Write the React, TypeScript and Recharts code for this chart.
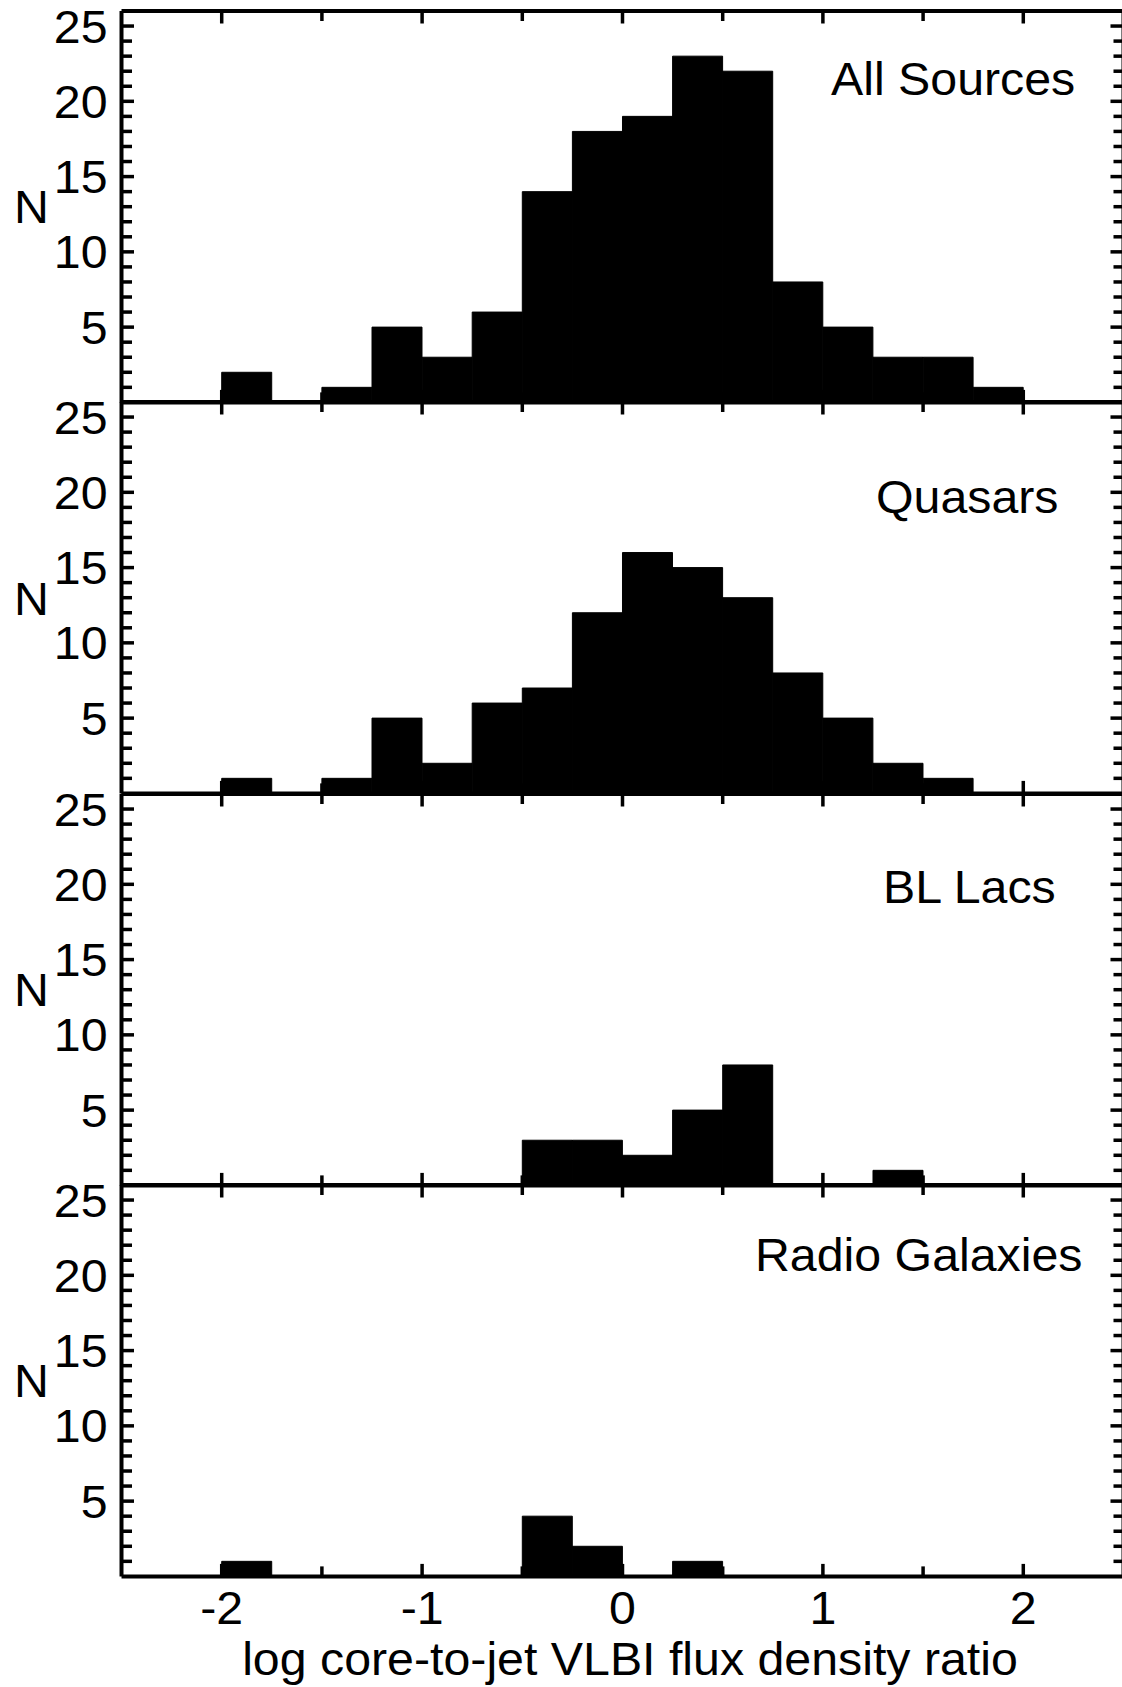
import {BarChart, Bar, XAxis, YAxis} from 'recharts';

// histogram bin centres, bins of width 0.25 in log(core/jet)
const BIN_CENTERS = [
    -2.375, -2.125, -1.875, -1.625, -1.375, -1.125, -0.875, -0.625, -0.375, -0.125,
    0.125, 0.375, 0.625, 0.875, 1.125, 1.375, 1.625, 1.875, 2.125, 2.375,
];

const ALL_SOURCES = [0, 0, 2, 0, 1, 5, 3, 6, 14, 18, 19, 23, 22, 8, 5, 3, 3, 1, 0, 0];
const QUASARS = [0, 0, 1, 0, 1, 5, 2, 6, 7, 12, 16, 15, 13, 8, 5, 2, 1, 0, 0, 0];
const BL_LACS = [0, 0, 0, 0, 0, 0, 0, 0, 3, 3, 2, 5, 8, 0, 0, 1, 0, 0, 0, 0];
const RADIO_GALAXIES = [0, 0, 1, 0, 0, 0, 0, 0, 4, 2, 0, 1, 0, 0, 0, 0, 0, 0, 0, 0];

const PANEL_NAMES = ["All Sources", "Quasars", "BL Lacs", "Radio Galaxies"];
const PANEL_COUNTS = [ALL_SOURCES, QUASARS, BL_LACS, RADIO_GALAXIES];

const X_DOMAIN = [-2.5, 2.5];
const Y_DOMAIN = [0, 26];
const X_TICKS = [-2, -1.5, -1, -0.5, 0, 0.5, 1, 1.5, 2];
const Y_TICKS = [1, 2, 3, 4, 5, 6, 7, 8, 9, 10, 11, 12, 13, 14, 15, 16, 17, 18, 19, 20, 21, 22, 23, 24, 25];

const X_TITLE = "log core-to-jet VLBI flux density ratio";
const Y_TITLE = "N";

// layout (px, page coordinates)
const FONT = '"Liberation Sans", Arial, Helvetica, sans-serif';
const FS = 46;
const STRETCH = 1.05;
const PLOT_LEFT = 121.5;
const PLOT_RIGHT = 1123.5;
const PLOT_TOP = 11;
const PANEL_H = 391.4;
const CHART_W = 1130;
const PAD = 20;
const BOTTOM_PAD = 115;
const LABEL_POS = [
    {x: 831, y: 95},
    {x: 876, y: 513},
    {x: 883, y: 903},
    {x: 755, y: 1271},
];

const LW = 3.5;

// horizontally widened text, the original font runs a bit wider than Arial
const SText = ({x, y, anchor = "start", children}: any) =>
    <text transform={`translate(${x},${y}) scale(${STRETCH},1)`} textAnchor={anchor}
          fontSize={FS} fontFamily={FONT} fill="#000">{children}</text>;

const LeftTick = ({x, y, payload}: any) => {
    const v = payload.value;
    const major = v % 5 === 0;
    return <g>
        <line x1={x} y1={y} x2={x + (major ? 12.5 : 10.5)} y2={y} stroke="#000" strokeWidth={LW}/>
        {major && <SText x={x - 14} y={y + 16.5} anchor="end">{v}</SText>}
    </g>;
}

const RightTick = ({x, y, payload}: any) => {
    const major = payload.value % 5 === 0;
    return <line x1={x} y1={y} x2={x - (major ? 13 : 10)} y2={y} stroke="#000" strokeWidth={LW}/>;
}

const makeBottomTick = (showLabel: boolean) => ({x, y, payload}: any) => {
    const v = payload.value;
    const major = Number.isInteger(v);
    return <g>
        <line x1={x} y1={y} x2={x} y2={y - (major ? 12.5 : 10)} stroke="#000" strokeWidth={LW}/>
        {showLabel && major && <SText x={x} y={y + 48} anchor="middle">{v}</SText>}
    </g>;
}

const TopTick = ({x, y, payload}: any) => {
    const major = Number.isInteger(payload.value);
    return <line x1={x} y1={y} x2={x} y2={y + (major ? 12.5 : 10)} stroke="#000" strokeWidth={LW}/>;
}

const BottomTick = makeBottomTick(false);
const BottomTickLabelled = makeBottomTick(true);

const Panel = ({counts, index}: { counts: number[], index: number }) => {
    const last = index === PANEL_COUNTS.length - 1;
    const data = BIN_CENTERS.map((x, i) => ({x, n: counts[i]}));
    const top = PLOT_TOP + index * PANEL_H - PAD;
    const bottomPad = last ? BOTTOM_PAD : PAD;
    const axisLine = {stroke: "#000", strokeWidth: 4};
    const common = {allowDataOverflow: true, tickSize: 0, tickMargin: 0, tickLine: false, axisLine, interval: 0 as const};

    // every visible axis is 1px thick so that it still renders; margins are trimmed by that pixel.
    // bars sit on a hidden band axis (one band per bin), the frame uses numeric axes
    return <div style={{position: "absolute", left: 0, top}}>
        <BarChart
            width={CHART_W}
            height={PANEL_H + PAD + bottomPad}
            data={data}
            barCategoryGap={0}
            barGap={0}
            margin={{top: PAD - 1, bottom: bottomPad - 1, left: PLOT_LEFT - 1, right: CHART_W - PLOT_RIGHT - 1}}
        >
            <XAxis xAxisId="bottom" dataKey="x" type="number" domain={X_DOMAIN} ticks={X_TICKS} height={1}
                   {...common} tick={last ? BottomTickLabelled : BottomTick}/>
            <XAxis xAxisId="top" dataKey="x" orientation="top" type="number" domain={X_DOMAIN} ticks={X_TICKS}
                   height={1} {...common} tick={TopTick}/>
            <XAxis xAxisId="bins" dataKey="x" type="category" height={0} hide/>
            <YAxis yAxisId="left" dataKey="n" type="number" domain={Y_DOMAIN} ticks={Y_TICKS} width={1}
                   {...common} tick={LeftTick}/>
            <YAxis yAxisId="right" dataKey="n" orientation="right" type="number" domain={Y_DOMAIN} ticks={Y_TICKS}
                   width={1} {...common} tick={RightTick}/>
            <Bar dataKey="n" xAxisId="bins" yAxisId="left" fill="#000" stroke="#000" strokeWidth={1}
                 isAnimationActive={false}/>
        </BarChart>
    </div>;
}

export default function App() {
    return <div style={{position: "absolute", left: 0, top: 0, width: 1122, height: 1687, overflow: "hidden", background: "#fff"}}>
        {PANEL_COUNTS.map((counts, i) => <Panel key={PANEL_NAMES[i]} counts={counts} index={i}/>)}
        <svg width={1122} height={1687} style={{position: "absolute", left: 0, top: 0, pointerEvents: "none"}}>
            {PANEL_NAMES.map((name, i) =>
                <SText key={name} x={LABEL_POS[i].x} y={LABEL_POS[i].y}>{name}</SText>)}
            {PANEL_NAMES.map((name, i) =>
                <SText key={"n" + name} x={14} y={PLOT_TOP + (i + 0.5) * PANEL_H + 16.5}>{Y_TITLE}</SText>)}
            <SText x={630} y={1675} anchor="middle">{X_TITLE}</SText>
        </svg>
    </div>;
}
